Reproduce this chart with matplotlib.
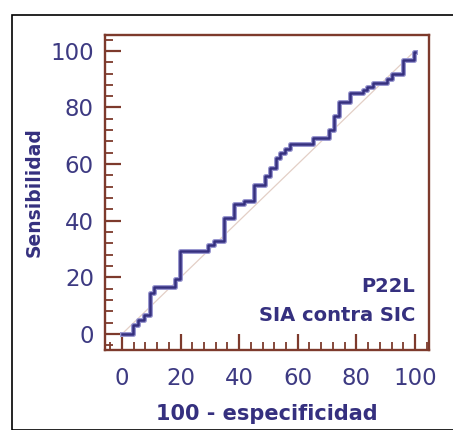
import numpy as np
import matplotlib
matplotlib.use("Agg")
import matplotlib.pyplot as plt
from matplotlib.patches import Rectangle
from matplotlib.ticker import MultipleLocator

# ROC curve (step positions and levels)
fpr = [0, 3.75, 5.3, 7.4, 9.4, 10.8, 18.2, 19.9, 29.2, 31.25, 34.7, 38.1, 41.7,
       45.1, 48.9, 50.6, 52.5, 54.0, 55.7, 57.4, 65.3, 70.5, 72.5, 74.2, 77.8,
       82.2, 83.75, 85.6, 90.3, 92.0, 96.0, 99.7]
tpr = [0, 3.2, 4.9, 6.7, 14.4, 16.5, 19.6, 29.4, 31.4, 32.9, 40.8, 45.9, 47.1,
       52.6, 55.9, 58.8, 62.2, 63.8, 65.3, 67.1, 69.1, 72.2, 76.9, 82.0, 85.2,
       86.1, 87.3, 88.7, 90.2, 91.8, 96.9, 99.6]
ticks = [0, 20, 40, 60, 80, 100]
marker_text = ["P22L", "SIA contra SIC"]

navy = "#35307f"
brown = "#7d3a2c"

fig = plt.figure(figsize=(4.53, 4.30), dpi=100)
fig.patch.set_facecolor("white")
fig.patches.append(Rectangle((12 / 453, 0), 1, (430 - 15) / 430, transform=fig.transFigure,
                             fill=False, edgecolor="black", linewidth=1.2))

ax = fig.add_axes([105 / 453, 80 / 430, 324 / 453, 315 / 430])
ax.plot([0, 100], [0, 100], color="#e3cfc6", linewidth=0.9, zorder=1)
xs = fpr + [100]
ys = tpr + [tpr[-1]]
ax.step(xs, ys, where="post", color="#9a98d0", linewidth=3.6, zorder=2)
ax.step(xs, ys, where="post", color=navy, linewidth=1.8, zorder=3)

ax.set_xlim(-5.8, 104.8)
ax.set_ylim(-5.65, 105.6)
ax.set_xticks(ticks)
ax.set_yticks(ticks)
ax.xaxis.set_minor_locator(MultipleLocator(4))
ax.yaxis.set_minor_locator(MultipleLocator(4))

for s in ["top", "right", "left", "bottom"]:
    ax.spines[s].set_color(brown)
    ax.spines[s].set_linewidth(1.7)

ax.tick_params(which="major", direction="in", length=11.5, width=1.6, color=brown,
               labelsize=16.5, labelcolor="#3d3a82")
ax.tick_params(which="minor", direction="in", length=6, width=1.3, color=brown)
ax.tick_params(axis="x", which="major", pad=12)
ax.tick_params(axis="y", which="major", pad=8)

ax.set_xlabel("100 - especificidad", fontsize=15, fontweight="bold", color=navy, labelpad=10)
ax.set_ylabel("Sensibilidad", fontsize=13.5, fontweight="bold", color=navy, labelpad=5)

ax.text(100, 16.6, marker_text[0], ha="right", va="center", fontsize=14,
        fontweight="bold", color=navy)
ax.text(100, 6.5, marker_text[1], ha="right", va="center", fontsize=14,
        fontweight="bold", color=navy)

fig.savefig("out.png", dpi=100)
